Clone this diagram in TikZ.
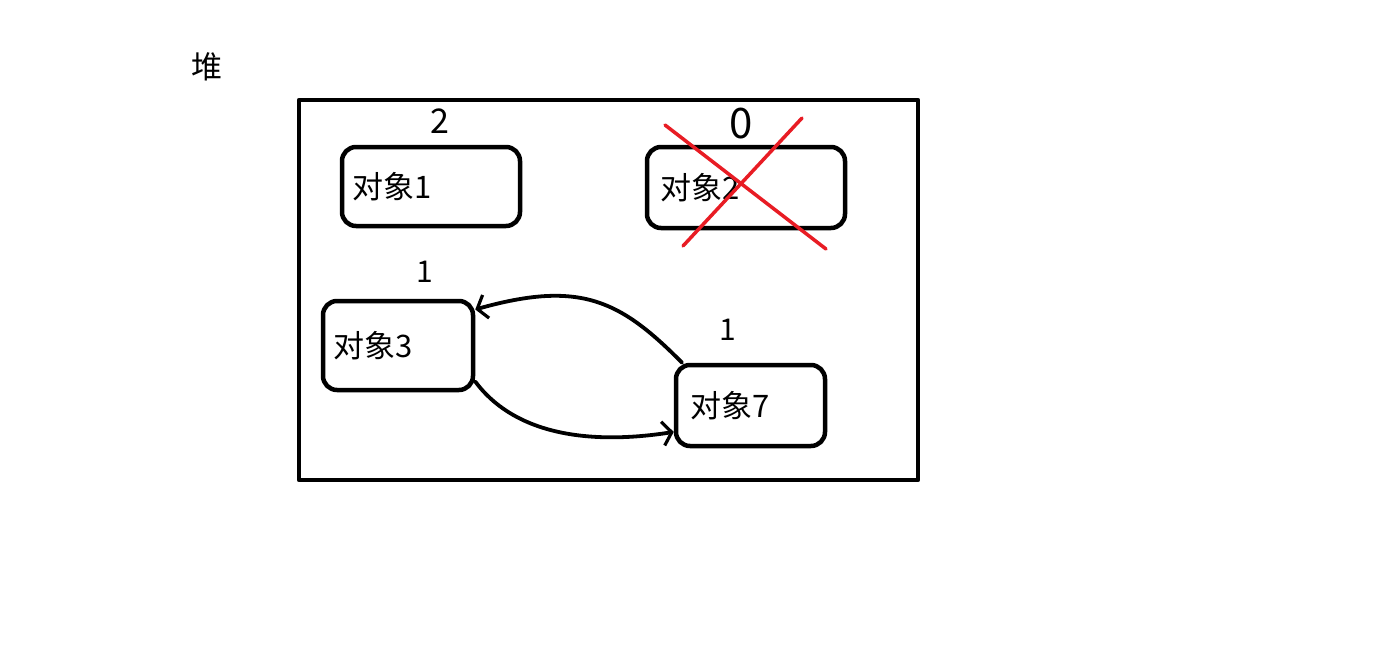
\documentclass[tikz,border=0pt]{standalone}
\usepackage{fontspec}
\newfontfamily\cjk{Noto Sans CJK SC}
\usetikzlibrary{arrows.meta}

\begin{document}
\begin{tikzpicture}[x=1pt, y=-1pt, line join=round, line cap=round,
    obj/.style={draw, line width=4.5pt, rounded corners=14pt, inner xsep=10pt, inner ysep=0pt, align=left, font=\cjk\fontsize{31pt}{36pt}\selectfont},
    cnt/.style={font=\cjk\fontsize{30pt}{34pt}\selectfont},
    link/.style={line width=3.8pt, -{Straight Barb[length=9pt, width=24pt, line width=3.2pt]}},
    cross/.style={line width=3.5pt, draw={rgb,255:red,232;green,28;blue,36}}]
    \useasboundingbox (0,0) rectangle (1390,648);
    \node[font=\cjk\fontsize{31pt}{34pt}\selectfont] (heap) at (207,67) {堆};
    \draw[line width=4.5pt] (299,100) rectangle (918,480);
    \node[obj, text width=158pt, minimum height=79pt] (o1) at (431,186.5) {对象1};
    \node[obj, text width=172pt, minimum height=81pt, inner xsep=13pt] (o2) at (746,187.5) {对象2};
    \node[obj, text width=130pt, minimum height=89pt] (o3) at (398,345.5) {对象3};
    \node[obj, text width=121pt, minimum height=81pt, inner xsep=14pt] (o7) at (750.5,405.5) {对象7};
    % reference counts
    \node[cnt, font=\cjk\fontsize{34pt}{38pt}\selectfont] (c1) at (440,121) {2};
    \node[cnt, font=\cjk\fontsize{42pt}{46pt}\selectfont] (c2) at (741,124) {0};
    \node[cnt] (c3) at (425,272) {1};
    \node[cnt] (c7) at (728,330) {1};
    \draw[cross] (665,125) -- (826,249);
    \draw[cross] (802,118) -- (683,246);
    \draw[link] (o7.148) .. controls (620,300) and (580,280) .. (o3.25);
    \draw[link] (o3.-25) .. controls (515,435) and (590,445) .. (o7.-161);
\end{tikzpicture}
\end{document}
